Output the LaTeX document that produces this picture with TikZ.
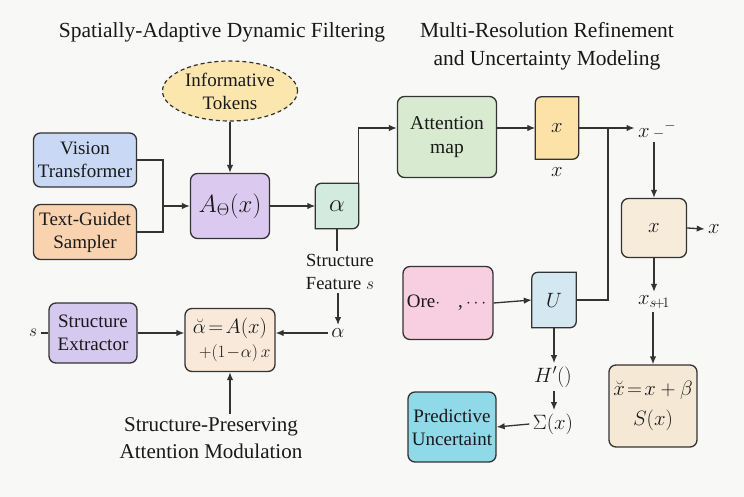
\documentclass[tikz,border=0pt]{standalone}
\usepackage{amsmath}
\usepackage{amssymb}
\usepackage{fontspec}
\setmainfont{Liberation Serif}
\usepackage{tikz}
\usetikzlibrary{arrows.meta,shapes.geometric,calc}
\usepackage{xcolor}

\pgfdeclarelayer{back}
\pgfsetlayers{back,main}

\definecolor{pagebg}{HTML}{F8F8F7}
\definecolor{edge}{HTML}{333333}
\definecolor{vitfill}{HTML}{C9D8F5}
\definecolor{samplerfill}{HTML}{F9D3AF}
\definecolor{tokenfill}{HTML}{FBE6AE}
\definecolor{afill}{HTML}{DCC9EF}
\definecolor{alphafill}{HTML}{D3EADF}
\definecolor{extrfill}{HTML}{D6C9F0}
\definecolor{modfill}{HTML}{F9E9DA}
\definecolor{attnfill}{HTML}{D8EBD0}
\definecolor{xfill}{HTML}{FDE2A7}
\definecolor{refinefill}{HTML}{F6ECD9}
\definecolor{finalfill}{HTML}{F5E9D6}
\definecolor{pinkfill}{HTML}{F8CEE1}
\definecolor{ufill}{HTML}{D4E8F1}
\definecolor{uncfill}{HTML}{8FD9E9}

% box with two rounded and two sharp corners
\newcommand\tabshape[2]{%
  \begin{pgfonlayer}{back}
    \draw[edge,line width=1.3pt,fill=#2]
    (#1.south west) [rounded corners=6pt] -- (#1.north west)
    [sharp corners] -- (#1.north east)
    [rounded corners=6pt] -- (#1.south east)
    [sharp corners] -- cycle;
  \end{pgfonlayer}}

\begin{document}
\begin{tikzpicture}[x=1pt,y=-1pt,>={Latex[length=8pt,width=6.5pt]},
	line width=1.2pt,
	every node/.style={font=\fontsize{19}{23}\selectfont,text=black!90},
	box/.style={draw=edge,line width=1.3pt,rounded corners=7pt,align=center,inner sep=0pt},
	tabnode/.style={inner sep=0pt,align=center},
	conn/.style={edge,line width=1.3pt},
	heading/.style={font=\fontsize{21.5}{28}\selectfont,align=center}]
	
	%----------------------------------------
	% Page
	%----------------------------------------
	\begin{pgfonlayer}{back}
		\fill[pagebg] (0,0) rectangle (744,497);
	\end{pgfonlayer}
	\useasboundingbox (0,0) rectangle (744,497);
	
	%----------------------------------------
	% Headings
	%----------------------------------------
	\node[heading] (tFilter) at (222,32) {Spatially-Adaptive Dynamic Filtering};
	\node[heading] (tRefine) at (547,46) {Multi-Resolution Refinement\\and Uncertainty Modeling};
	
	%----------------------------------------
	% Dynamic filtering
	%----------------------------------------
	\node[ellipse,draw=edge,dashed,dash pattern=on 4pt off 3pt,line width=1.2pt,
	fill=tokenfill,align=center,inner sep=0pt,minimum width=135pt,minimum height=60pt]
	(tokens) at (230,91) {Informative\\Tokens};
	
	\node[box,fill=vitfill,minimum width=103pt,minimum height=54pt]
	(vit) at (85,160) {Vision\\Transformer};
	\node[box,fill=samplerfill,minimum width=103pt,minimum height=55pt]
	(sampler) at (85,232) {Text-Guidet\\Sampler};
	
	\node[box,fill=afill,minimum width=79pt,minimum height=65pt,
	font=\fontsize{23}{26}\selectfont] (filter) at (230,206) {$A_{\Theta}(x)$};
	
	\node[tabnode,minimum width=43pt,minimum height=45pt,
	font=\fontsize{24}{26}\selectfont] (alpha) at (337,206) {$\alpha$};
	\tabshape{alpha}{alphafill}
	
	\coordinate (merge) at (163,206);
	\draw[conn] (vit.east) -| (merge);
	\draw[conn] (sampler.east) -| (merge);
	\draw[conn,->] (merge) -- (filter.west);
	\draw[conn,->] (tokens.south) -- (filter.north);
	\draw[conn,->] (filter.east) -- (alpha.west);
	
	%----------------------------------------
	% Structure-preserving modulation
	%----------------------------------------
	\node[align=center,font=\fontsize{18.5}{23}\selectfont]
	(feature) at (340,272) {Structure\\Feature $s$};
	\node[font=\fontsize{22}{24}\selectfont] (alphaIn) at (338,333) {$\alpha$};
	
	\node (sIn) at (33,333) {$s$};
	\node[box,fill=extrfill,minimum width=88pt,minimum height=60pt]
	(extractor) at (93,333) {Structure\\Extractor};
	
	\node[box,fill=modfill,minimum width=90pt,minimum height=63pt,
	font=\fontsize{22}{24}\selectfont] (modulate) at (230,340)
	{$\breve{\alpha}\!=\!A(x)$\\{\fontsize{19}{21}\selectfont$\;\;+(1\!-\!\alpha)\,x$}};
	
	\node[heading,font=\fontsize{21}{27}\selectfont]
	(modLabel) at (211,438) {Structure-Preserving\\Attention Modulation};
	
	\draw[conn] (alpha.south) -- (alpha.south |- feature.north);
	\draw[conn,->] (alphaIn.north |- feature.south) -- (alphaIn.north);
	\draw[conn] (sIn.east) -- (extractor.west);
	\draw[conn,->] (extractor.east) -- (modulate.west |- extractor.east);
	\draw[conn,->] (alphaIn.west) -- (modulate.east |- alphaIn.west);
	\draw[conn,->] (modulate.south |- modLabel.north) -- (modulate.south);
	
	%----------------------------------------
	% Refinement branch
	%----------------------------------------
	\node[box,fill=attnfill,minimum width=99pt,minimum height=81pt,
	font=\fontsize{19.5}{24}\selectfont] (attn) at (447,137) {Attention\\map};
	
	\node[tabnode,minimum width=43pt,minimum height=62pt,
	font=\fontsize{21}{24}\selectfont] (xBox) at (557,128) {$x$};
	\tabshape{xBox}{xfill}
	\node[font=\fontsize{20}{22}\selectfont] (xBelow) at (557,172) {$x$};
	
	\node[font=\fontsize{21}{24}\selectfont] (xMinus) at (657,130) {$x\,{\scriptstyle -}{}^{-}$};
	
	\node[box,fill=refinefill,minimum width=65pt,minimum height=59pt,
	font=\fontsize{21}{24}\selectfont] (refine) at (654,228) {$x$};
	\node[font=\fontsize{21}{24}\selectfont] (xOut) at (714,229) {$x$};
	
	\node[font=\fontsize{21}{24}\selectfont] (xNext) at (654,302) {$x_{s\!+\!1}$};
	
	\node[box,fill=finalfill,minimum width=88pt,minimum height=82pt,
	font=\fontsize{21}{30}\selectfont] (final) at (653,406)
	{$\breve{x}\!=\!x+\beta$\\$S(x)$};
	
	\draw[conn,->] (alpha.north east) |- ([yshift=9pt]attn.west);
	\draw[conn,->] ([yshift=9pt]attn.east) -- (xBox.west);
	\coordinate (split) at (608,128);
	\draw[conn,->] (xBox.east) -- (xMinus.west |- xBox.east);
	\draw[conn,->] (refine.north |- xMinus.south) -- (refine.north);
	\draw[conn,->] (refine.east) -- (xOut.west);
	\draw[conn,->] (refine.south) -- (refine.south |- xNext.north);
	\draw[conn,->] (final.north |- xNext.south) -- (final.north);
	
	%----------------------------------------
	% Uncertainty branch
	%----------------------------------------
	\node[box,fill=pinkfill,minimum width=90pt,minimum height=73pt]
	(source) at (448,303) {Ore$\cdot$\hspace{18pt},\,$\cdots$};
	
	\node[tabnode,minimum width=44pt,minimum height=55pt,
	font=\fontsize{21}{24}\selectfont] (unc) at (554,300) {$U$};
	\tabshape{unc}{ufill}
	
	\node[font=\fontsize{20}{22}\selectfont] (entropy) at (553,377) {$H'()$};
	\node[font=\fontsize{21}{24}\selectfont] (sigma) at (553,424) {$\Sigma(x)$};
	
	\node[box,fill=uncfill,minimum width=88pt,minimum height=70pt]
	(predictive) at (452,427) {Predictive\\Uncertaint};
	
	\draw[conn,->] (source.east) -- (unc.west);
	\draw[conn] (unc.east) -| (split);
	\draw[conn,->] (unc.south) -- (unc.south |- entropy.north);
	\draw[conn,->] (unc.south |- entropy.south) -- (unc.south |- sigma.north);
	\draw[conn,->] (sigma.west) -- (predictive.east);
	
\end{tikzpicture}
\end{document}
